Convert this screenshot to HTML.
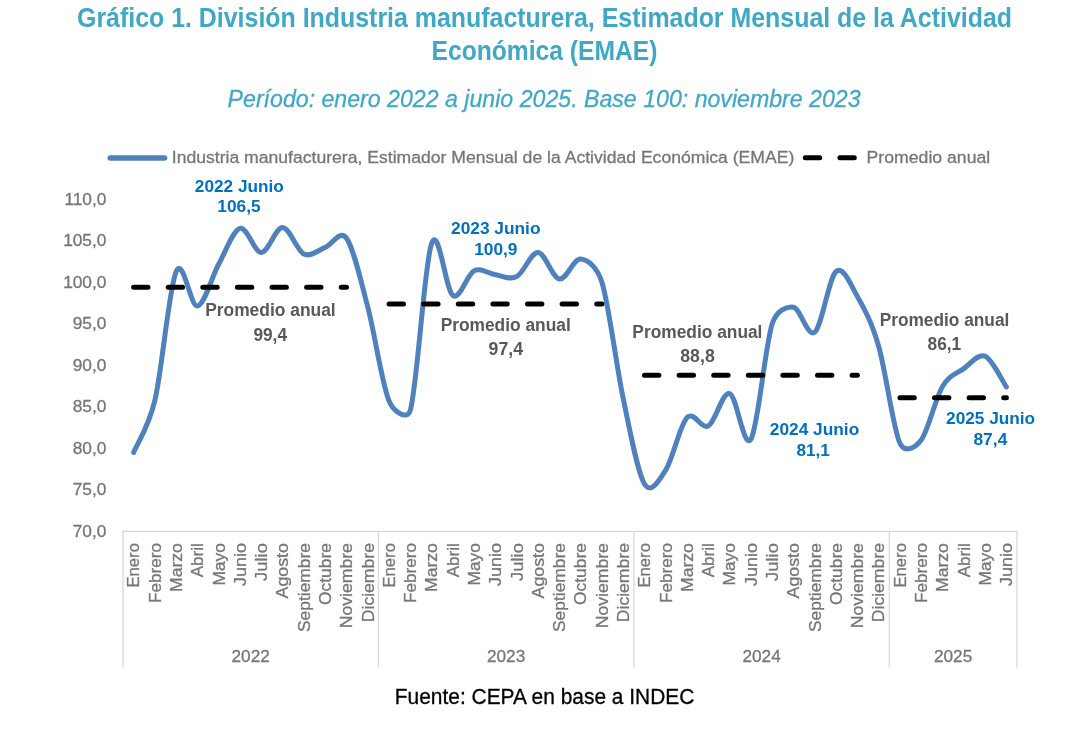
<!DOCTYPE html>
<html><head><meta charset="utf-8"><title>Grafico 1</title>
<style>
html,body{margin:0;padding:0;background:#fff;}
svg{display:block;will-change:transform;}
text{font-family:"Liberation Sans",sans-serif;}
</style></head><body>
<svg width="1084" height="747" viewBox="0 0 1084 747">
<rect width="1084" height="747" fill="#ffffff"/>
<text x="77.0" y="26.8" font-size="26.8" fill="#3fa8c6" text-anchor="start" font-weight="bold" font-style="normal" textLength="935.0" lengthAdjust="spacingAndGlyphs" >Gráfico 1. División Industria manufacturera, Estimador Mensual de la Actividad</text>
<text x="431.5" y="60.1" font-size="26.8" fill="#3fa8c6" text-anchor="start" font-weight="bold" font-style="normal" textLength="226.0" lengthAdjust="spacingAndGlyphs" >Económica (EMAE)</text>
<text x="227.6" y="106.6" font-size="24.1" fill="#3fa8c6" text-anchor="start" font-weight="normal" font-style="italic" textLength="633.0" lengthAdjust="spacingAndGlyphs" stroke="#3fa8c6" stroke-width="0.3" >Período: enero 2022 a junio 2025. Base 100: noviembre 2023</text>
<line x1="110.2" y1="158" x2="164.6" y2="158" stroke="#4f81bd" stroke-width="5.4" stroke-linecap="round"/>
<text x="171.8" y="162.7" font-size="17.4" fill="#767676" text-anchor="start" font-weight="normal" font-style="normal" textLength="622.5" lengthAdjust="spacingAndGlyphs" stroke="#767676" stroke-width="0.3" >Industria manufacturera, Estimador Mensual de la Actividad Económica (EMAE)</text>
<line x1="805.3" y1="157.7" x2="860" y2="157.7" stroke="#000" stroke-width="5" stroke-linecap="round" stroke-dasharray="14.4 20.2"/>
<text x="866.6" y="162.7" font-size="17.4" fill="#767676" text-anchor="start" font-weight="normal" font-style="normal" textLength="123.6" lengthAdjust="spacingAndGlyphs" stroke="#767676" stroke-width="0.3" >Promedio anual</text>
<g stroke="#d9d9d9" stroke-width="1.3" fill="none">
<line x1="122.4" y1="531.3" x2="1017.6" y2="531.3"/>
<line x1="123.0" y1="531.3" x2="123.0" y2="667.4"/>
<line x1="378.4" y1="531.3" x2="378.4" y2="667.4"/>
<line x1="633.9" y1="531.3" x2="633.9" y2="667.4"/>
<line x1="889.3" y1="531.3" x2="889.3" y2="667.4"/>
<line x1="1017.0" y1="531.3" x2="1017.0" y2="667.4"/>
</g>
<text x="106.4" y="536.8" font-size="17.3" fill="#767676" text-anchor="end" font-weight="normal" font-style="normal" stroke="#767676" stroke-width="0.3" >70,0</text>
<text x="106.4" y="495.2" font-size="17.3" fill="#767676" text-anchor="end" font-weight="normal" font-style="normal" stroke="#767676" stroke-width="0.3" >75,0</text>
<text x="106.4" y="453.7" font-size="17.3" fill="#767676" text-anchor="end" font-weight="normal" font-style="normal" stroke="#767676" stroke-width="0.3" >80,0</text>
<text x="106.4" y="412.2" font-size="17.3" fill="#767676" text-anchor="end" font-weight="normal" font-style="normal" stroke="#767676" stroke-width="0.3" >85,0</text>
<text x="106.4" y="370.7" font-size="17.3" fill="#767676" text-anchor="end" font-weight="normal" font-style="normal" stroke="#767676" stroke-width="0.3" >90,0</text>
<text x="106.4" y="329.2" font-size="17.3" fill="#767676" text-anchor="end" font-weight="normal" font-style="normal" stroke="#767676" stroke-width="0.3" >95,0</text>
<text x="106.4" y="287.7" font-size="17.3" fill="#767676" text-anchor="end" font-weight="normal" font-style="normal" stroke="#767676" stroke-width="0.3" >100,0</text>
<text x="106.4" y="246.2" font-size="17.3" fill="#767676" text-anchor="end" font-weight="normal" font-style="normal" stroke="#767676" stroke-width="0.3" >105,0</text>
<text x="106.4" y="204.7" font-size="17.3" fill="#767676" text-anchor="end" font-weight="normal" font-style="normal" stroke="#767676" stroke-width="0.3" >110,0</text>
<text transform="translate(139.4,543.1) rotate(-90)" font-size="17.4" fill="#767676" stroke="#767676" stroke-width="0.3" text-anchor="end" textLength="44.5" lengthAdjust="spacingAndGlyphs">Enero</text>
<text transform="translate(160.7,543.1) rotate(-90)" font-size="17.4" fill="#767676" stroke="#767676" stroke-width="0.3" text-anchor="end" textLength="59.8" lengthAdjust="spacingAndGlyphs">Febrero</text>
<text transform="translate(182.0,543.1) rotate(-90)" font-size="17.4" fill="#767676" stroke="#767676" stroke-width="0.3" text-anchor="end" textLength="48.9" lengthAdjust="spacingAndGlyphs">Marzo</text>
<text transform="translate(203.3,543.1) rotate(-90)" font-size="17.4" fill="#767676" stroke="#767676" stroke-width="0.3" text-anchor="end" textLength="34.2" lengthAdjust="spacingAndGlyphs">Abril</text>
<text transform="translate(224.6,543.1) rotate(-90)" font-size="17.4" fill="#767676" stroke="#767676" stroke-width="0.3" text-anchor="end" textLength="42.4" lengthAdjust="spacingAndGlyphs">Mayo</text>
<text transform="translate(245.9,543.1) rotate(-90)" font-size="17.4" fill="#767676" stroke="#767676" stroke-width="0.3" text-anchor="end" textLength="43.0" lengthAdjust="spacingAndGlyphs">Junio</text>
<text transform="translate(267.2,543.1) rotate(-90)" font-size="17.4" fill="#767676" stroke="#767676" stroke-width="0.3" text-anchor="end" textLength="37.8" lengthAdjust="spacingAndGlyphs">Julio</text>
<text transform="translate(288.4,543.1) rotate(-90)" font-size="17.4" fill="#767676" stroke="#767676" stroke-width="0.3" text-anchor="end" textLength="55.4" lengthAdjust="spacingAndGlyphs">Agosto</text>
<text transform="translate(309.7,543.1) rotate(-90)" font-size="17.4" fill="#767676" stroke="#767676" stroke-width="0.3" text-anchor="end" textLength="88.9" lengthAdjust="spacingAndGlyphs">Septiembre</text>
<text transform="translate(331.0,543.1) rotate(-90)" font-size="17.4" fill="#767676" stroke="#767676" stroke-width="0.3" text-anchor="end" textLength="61.8" lengthAdjust="spacingAndGlyphs">Octubre</text>
<text transform="translate(352.3,543.1) rotate(-90)" font-size="17.4" fill="#767676" stroke="#767676" stroke-width="0.3" text-anchor="end" textLength="85.1" lengthAdjust="spacingAndGlyphs">Noviembre</text>
<text transform="translate(373.6,543.1) rotate(-90)" font-size="17.4" fill="#767676" stroke="#767676" stroke-width="0.3" text-anchor="end" textLength="79.1" lengthAdjust="spacingAndGlyphs">Diciembre</text>
<text transform="translate(394.9,543.1) rotate(-90)" font-size="17.4" fill="#767676" stroke="#767676" stroke-width="0.3" text-anchor="end" textLength="44.5" lengthAdjust="spacingAndGlyphs">Enero</text>
<text transform="translate(416.2,543.1) rotate(-90)" font-size="17.4" fill="#767676" stroke="#767676" stroke-width="0.3" text-anchor="end" textLength="59.8" lengthAdjust="spacingAndGlyphs">Febrero</text>
<text transform="translate(437.4,543.1) rotate(-90)" font-size="17.4" fill="#767676" stroke="#767676" stroke-width="0.3" text-anchor="end" textLength="48.9" lengthAdjust="spacingAndGlyphs">Marzo</text>
<text transform="translate(458.7,543.1) rotate(-90)" font-size="17.4" fill="#767676" stroke="#767676" stroke-width="0.3" text-anchor="end" textLength="34.2" lengthAdjust="spacingAndGlyphs">Abril</text>
<text transform="translate(480.0,543.1) rotate(-90)" font-size="17.4" fill="#767676" stroke="#767676" stroke-width="0.3" text-anchor="end" textLength="42.4" lengthAdjust="spacingAndGlyphs">Mayo</text>
<text transform="translate(501.3,543.1) rotate(-90)" font-size="17.4" fill="#767676" stroke="#767676" stroke-width="0.3" text-anchor="end" textLength="43.0" lengthAdjust="spacingAndGlyphs">Junio</text>
<text transform="translate(522.6,543.1) rotate(-90)" font-size="17.4" fill="#767676" stroke="#767676" stroke-width="0.3" text-anchor="end" textLength="37.8" lengthAdjust="spacingAndGlyphs">Julio</text>
<text transform="translate(543.9,543.1) rotate(-90)" font-size="17.4" fill="#767676" stroke="#767676" stroke-width="0.3" text-anchor="end" textLength="55.4" lengthAdjust="spacingAndGlyphs">Agosto</text>
<text transform="translate(565.2,543.1) rotate(-90)" font-size="17.4" fill="#767676" stroke="#767676" stroke-width="0.3" text-anchor="end" textLength="88.9" lengthAdjust="spacingAndGlyphs">Septiembre</text>
<text transform="translate(586.4,543.1) rotate(-90)" font-size="17.4" fill="#767676" stroke="#767676" stroke-width="0.3" text-anchor="end" textLength="61.8" lengthAdjust="spacingAndGlyphs">Octubre</text>
<text transform="translate(607.7,543.1) rotate(-90)" font-size="17.4" fill="#767676" stroke="#767676" stroke-width="0.3" text-anchor="end" textLength="85.1" lengthAdjust="spacingAndGlyphs">Noviembre</text>
<text transform="translate(629.0,543.1) rotate(-90)" font-size="17.4" fill="#767676" stroke="#767676" stroke-width="0.3" text-anchor="end" textLength="79.1" lengthAdjust="spacingAndGlyphs">Diciembre</text>
<text transform="translate(650.3,543.1) rotate(-90)" font-size="17.4" fill="#767676" stroke="#767676" stroke-width="0.3" text-anchor="end" textLength="44.5" lengthAdjust="spacingAndGlyphs">Enero</text>
<text transform="translate(671.6,543.1) rotate(-90)" font-size="17.4" fill="#767676" stroke="#767676" stroke-width="0.3" text-anchor="end" textLength="59.8" lengthAdjust="spacingAndGlyphs">Febrero</text>
<text transform="translate(692.9,543.1) rotate(-90)" font-size="17.4" fill="#767676" stroke="#767676" stroke-width="0.3" text-anchor="end" textLength="48.9" lengthAdjust="spacingAndGlyphs">Marzo</text>
<text transform="translate(714.2,543.1) rotate(-90)" font-size="17.4" fill="#767676" stroke="#767676" stroke-width="0.3" text-anchor="end" textLength="34.2" lengthAdjust="spacingAndGlyphs">Abril</text>
<text transform="translate(735.4,543.1) rotate(-90)" font-size="17.4" fill="#767676" stroke="#767676" stroke-width="0.3" text-anchor="end" textLength="42.4" lengthAdjust="spacingAndGlyphs">Mayo</text>
<text transform="translate(756.7,543.1) rotate(-90)" font-size="17.4" fill="#767676" stroke="#767676" stroke-width="0.3" text-anchor="end" textLength="43.0" lengthAdjust="spacingAndGlyphs">Junio</text>
<text transform="translate(778.0,543.1) rotate(-90)" font-size="17.4" fill="#767676" stroke="#767676" stroke-width="0.3" text-anchor="end" textLength="37.8" lengthAdjust="spacingAndGlyphs">Julio</text>
<text transform="translate(799.3,543.1) rotate(-90)" font-size="17.4" fill="#767676" stroke="#767676" stroke-width="0.3" text-anchor="end" textLength="55.4" lengthAdjust="spacingAndGlyphs">Agosto</text>
<text transform="translate(820.6,543.1) rotate(-90)" font-size="17.4" fill="#767676" stroke="#767676" stroke-width="0.3" text-anchor="end" textLength="88.9" lengthAdjust="spacingAndGlyphs">Septiembre</text>
<text transform="translate(841.9,543.1) rotate(-90)" font-size="17.4" fill="#767676" stroke="#767676" stroke-width="0.3" text-anchor="end" textLength="61.8" lengthAdjust="spacingAndGlyphs">Octubre</text>
<text transform="translate(863.2,543.1) rotate(-90)" font-size="17.4" fill="#767676" stroke="#767676" stroke-width="0.3" text-anchor="end" textLength="85.1" lengthAdjust="spacingAndGlyphs">Noviembre</text>
<text transform="translate(884.4,543.1) rotate(-90)" font-size="17.4" fill="#767676" stroke="#767676" stroke-width="0.3" text-anchor="end" textLength="79.1" lengthAdjust="spacingAndGlyphs">Diciembre</text>
<text transform="translate(905.7,543.1) rotate(-90)" font-size="17.4" fill="#767676" stroke="#767676" stroke-width="0.3" text-anchor="end" textLength="44.5" lengthAdjust="spacingAndGlyphs">Enero</text>
<text transform="translate(927.0,543.1) rotate(-90)" font-size="17.4" fill="#767676" stroke="#767676" stroke-width="0.3" text-anchor="end" textLength="59.8" lengthAdjust="spacingAndGlyphs">Febrero</text>
<text transform="translate(948.3,543.1) rotate(-90)" font-size="17.4" fill="#767676" stroke="#767676" stroke-width="0.3" text-anchor="end" textLength="48.9" lengthAdjust="spacingAndGlyphs">Marzo</text>
<text transform="translate(969.6,543.1) rotate(-90)" font-size="17.4" fill="#767676" stroke="#767676" stroke-width="0.3" text-anchor="end" textLength="34.2" lengthAdjust="spacingAndGlyphs">Abril</text>
<text transform="translate(990.9,543.1) rotate(-90)" font-size="17.4" fill="#767676" stroke="#767676" stroke-width="0.3" text-anchor="end" textLength="42.4" lengthAdjust="spacingAndGlyphs">Mayo</text>
<text transform="translate(1012.2,543.1) rotate(-90)" font-size="17.4" fill="#767676" stroke="#767676" stroke-width="0.3" text-anchor="end" textLength="43.0" lengthAdjust="spacingAndGlyphs">Junio</text>
<text x="250.7" y="662.2" font-size="17.2" fill="#767676" text-anchor="middle" font-weight="normal" font-style="normal" stroke="#767676" stroke-width="0.3" >2022</text>
<text x="506.1" y="662.2" font-size="17.2" fill="#767676" text-anchor="middle" font-weight="normal" font-style="normal" stroke="#767676" stroke-width="0.3" >2023</text>
<text x="761.6" y="662.2" font-size="17.2" fill="#767676" text-anchor="middle" font-weight="normal" font-style="normal" stroke="#767676" stroke-width="0.3" >2024</text>
<text x="953.1" y="662.2" font-size="17.2" fill="#767676" text-anchor="middle" font-weight="normal" font-style="normal" stroke="#767676" stroke-width="0.3" >2025</text>
<path d="M133.64,452.45 C137.19,443.73 148.46,427.64 154.93,400.16 C162.02,370.00 169.12,287.21 176.21,271.51 C183.31,255.81 190.40,307.20 197.50,305.95 C204.60,304.71 211.69,276.97 218.79,264.04 C225.88,251.11 232.98,230.29 240.07,228.35 C247.17,226.41 254.26,252.56 261.36,252.42 C268.45,252.28 275.55,227.24 282.64,227.52 C289.74,227.80 296.83,250.76 303.93,254.08 C311.02,257.40 318.12,250.07 325.21,247.44 C332.31,244.81 339.78,228.88 346.50,238.31 C353.60,248.27 360.69,280.09 367.79,307.20 C374.88,334.31 381.98,383.84 389.07,400.99 C393.50,411.69 407.34,421.30 410.36,410.12 C417.45,383.84 424.55,262.38 431.64,243.29 C438.74,224.20 445.83,291.01 452.93,295.58 C460.02,300.14 467.12,274.14 474.21,270.68 C481.31,267.22 488.40,273.86 495.50,274.83 C502.60,275.80 509.69,280.22 516.79,276.49 C523.88,272.75 530.98,252.00 538.07,252.42 C545.17,252.83 552.26,277.87 559.36,278.98 C566.45,280.09 573.55,258.51 580.64,259.06 C587.74,259.61 597.33,267.23 601.93,282.30 C609.02,305.54 616.12,364.88 623.21,398.50 C630.31,432.11 637.40,472.09 644.50,483.99 C651.04,494.96 658.89,480.63 665.79,469.88 C672.88,458.81 679.98,424.92 687.07,417.59 C694.17,410.26 701.26,429.90 708.36,425.89 C715.45,421.88 722.55,391.31 729.64,393.52 C736.74,395.73 743.83,450.79 750.93,439.17 C758.02,427.55 765.12,345.79 772.21,323.80 C776.36,310.96 786.40,305.82 793.50,307.20 C800.60,308.58 807.69,338.05 814.79,332.10 C821.88,326.15 828.98,277.46 836.07,271.51 C843.17,265.56 850.26,283.96 857.36,296.41 C864.45,308.86 871.55,321.72 878.64,346.21 C885.74,370.69 892.83,427.69 899.93,443.32 C904.38,453.13 914.76,448.62 921.21,440.00 C928.31,430.52 935.40,398.36 942.50,386.46 C949.60,374.57 956.69,373.67 963.79,368.62 C970.88,363.57 977.98,353.13 985.07,356.17 C992.17,359.21 1002.81,381.76 1006.36,386.88" fill="none" stroke="#4f81bd" stroke-width="5" stroke-linecap="round" stroke-linejoin="round"/>
<line x1="133.6" y1="287.3" x2="346.5" y2="287.3" stroke="#000" stroke-width="5" stroke-linecap="round" stroke-dasharray="14.4 20.2"/>
<line x1="389.1" y1="303.9" x2="601.9" y2="303.9" stroke="#000" stroke-width="5" stroke-linecap="round" stroke-dasharray="14.4 20.2"/>
<line x1="644.5" y1="375.3" x2="857.4" y2="375.3" stroke="#000" stroke-width="5" stroke-linecap="round" stroke-dasharray="14.4 20.2"/>
<line x1="899.9" y1="397.7" x2="1006.4" y2="397.7" stroke="#000" stroke-width="5" stroke-linecap="round" stroke-dasharray="14.4 20.2"/>
<text x="239.3" y="191.5" font-size="17.1" fill="#0070c0" text-anchor="middle" font-weight="bold" font-style="normal" textLength="88.9" lengthAdjust="spacingAndGlyphs" >2022 Junio</text>
<text x="239.0" y="212.1" font-size="16.6" fill="#0070c0" text-anchor="middle" font-weight="bold" font-style="normal" textLength="43.3" lengthAdjust="spacingAndGlyphs" >106,5</text>
<text x="495.8" y="233.8" font-size="17.1" fill="#0070c0" text-anchor="middle" font-weight="bold" font-style="normal" textLength="89.4" lengthAdjust="spacingAndGlyphs" >2023 Junio</text>
<text x="495.8" y="254.6" font-size="16.6" fill="#0070c0" text-anchor="middle" font-weight="bold" font-style="normal" textLength="43.3" lengthAdjust="spacingAndGlyphs" >100,9</text>
<text x="814.5" y="434.5" font-size="17.1" fill="#0070c0" text-anchor="middle" font-weight="bold" font-style="normal" textLength="89.5" lengthAdjust="spacingAndGlyphs" >2024 Junio</text>
<text x="813.1" y="455.5" font-size="16.6" fill="#0070c0" text-anchor="middle" font-weight="bold" font-style="normal" textLength="33.3" lengthAdjust="spacingAndGlyphs" >81,1</text>
<text x="990.6" y="423.5" font-size="17.1" fill="#0070c0" text-anchor="middle" font-weight="bold" font-style="normal" textLength="89.1" lengthAdjust="spacingAndGlyphs" >2025 Junio</text>
<text x="990.4" y="444.9" font-size="16.6" fill="#0070c0" text-anchor="middle" font-weight="bold" font-style="normal" textLength="33.9" lengthAdjust="spacingAndGlyphs" >87,4</text>
<text x="270.4" y="315.7" font-size="17.5" fill="#595959" text-anchor="middle" font-weight="bold" font-style="normal" textLength="130.5" lengthAdjust="spacingAndGlyphs" >Promedio anual</text>
<text x="270.2" y="340.6" font-size="17.9" fill="#595959" text-anchor="middle" font-weight="bold" font-style="normal" textLength="33.6" lengthAdjust="spacingAndGlyphs" >99,4</text>
<text x="505.7" y="330.5" font-size="17.5" fill="#595959" text-anchor="middle" font-weight="bold" font-style="normal" textLength="130.1" lengthAdjust="spacingAndGlyphs" >Promedio anual</text>
<text x="505.8" y="354.6" font-size="17.9" fill="#595959" text-anchor="middle" font-weight="bold" font-style="normal" textLength="34.5" lengthAdjust="spacingAndGlyphs" >97,4</text>
<text x="697.4" y="338.4" font-size="17.5" fill="#595959" text-anchor="middle" font-weight="bold" font-style="normal" textLength="130.1" lengthAdjust="spacingAndGlyphs" >Promedio anual</text>
<text x="697.5" y="361.7" font-size="17.9" fill="#595959" text-anchor="middle" font-weight="bold" font-style="normal" textLength="34.5" lengthAdjust="spacingAndGlyphs" >88,8</text>
<text x="944.5" y="326.1" font-size="17.5" fill="#595959" text-anchor="middle" font-weight="bold" font-style="normal" textLength="129.7" lengthAdjust="spacingAndGlyphs" >Promedio anual</text>
<text x="944.4" y="350.2" font-size="17.9" fill="#595959" text-anchor="middle" font-weight="bold" font-style="normal" textLength="33.7" lengthAdjust="spacingAndGlyphs" >86,1</text>
<text x="394.8" y="703.5" font-size="21.6" fill="#000" text-anchor="start" font-weight="normal" font-style="normal" textLength="299.6" lengthAdjust="spacingAndGlyphs" stroke="#000" stroke-width="0.3" >Fuente: CEPA en base a INDEC</text>
</svg></body></html>
